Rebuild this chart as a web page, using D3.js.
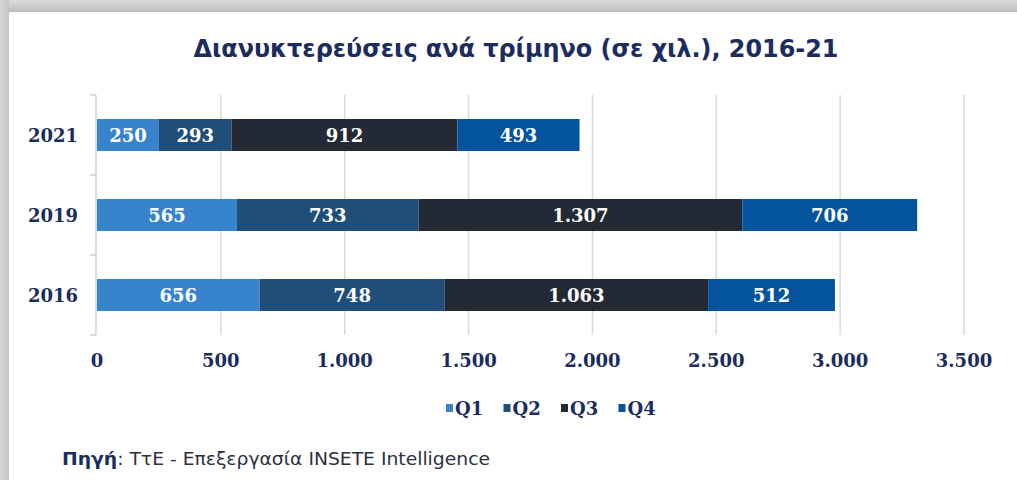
<!DOCTYPE html>
<html>
<head>
<meta charset="utf-8">
<script src="https://cdn.jsdelivr.net/npm/d3@7"></script>
<style>
  html, body { margin: 0; padding: 0; background: #fff; }
  svg { display: block; }
</style>
</head>
<body>
<svg width="1017" height="480"></svg>
<script>
// data
const years = ['2021', '2019', '2016'];
const quarters = ['Q1', 'Q2', 'Q3', 'Q4'];
const q1 = [250, 565, 656];
const q2 = [293, 733, 748];
const q3 = [912, 1307, 1063];
const q4 = [493, 706, 512];
const xTicks = [0, 500, 1000, 1500, 2000, 2500, 3000, 3500];

const colors = ['#3784cc', '#1f4e79', '#232a35', '#03549c'];
const navy = '#1b2c5e';

const svg = d3.select('svg');
const width = +svg.attr('width');
const height = +svg.attr('height');

// gray drop shadow frame
const defs = svg.append('defs');
const gTop = defs.append('linearGradient').attr('id', 'gTop').attr('x1', 0).attr('y1', 0).attr('x2', 0).attr('y2', 1);
gTop.append('stop').attr('offset', 0).attr('stop-color', '#dcdcdc');
gTop.append('stop').attr('offset', 1).attr('stop-color', '#bdbdbd');
const gLeft = defs.append('linearGradient').attr('id', 'gLeft').attr('x1', 0).attr('y1', 0).attr('x2', 1).attr('y2', 0);
gLeft.append('stop').attr('offset', 0).attr('stop-color', '#d6d6d6');
gLeft.append('stop').attr('offset', 1).attr('stop-color', '#c4c4c4');
svg.append('rect').attr('x', 0).attr('y', 0).attr('width', width).attr('height', 12).attr('fill', 'url(#gTop)');
svg.append('rect').attr('x', 0).attr('y', 0).attr('width', 9).attr('height', height).attr('fill', 'url(#gLeft)');

const rows = years.map((y, i) => ({ year: y, Q1: q1[i], Q2: q2[i], Q3: q3[i], Q4: q4[i] }));
const series = d3.stack().keys(quarters)(rows);

const xScale = d3.scaleLinear().domain([0, 3500]).range([97, 964]);
const yScale = d3.scaleBand()
  .domain(years)
  .range([95, 335])
  .paddingInner(0.6)
  .paddingOuter(0.3);

const fmt = d3.formatLocale({ decimal: ',', thousands: '.', grouping: [3], currency: ['', '€'] }).format(',');

// title
svg.append('text')
  .attr('x', 516)
  .attr('y', 57)
  .attr('text-anchor', 'middle')
  .attr('font-family', 'DejaVu Sans Condensed, DejaVu Sans')
  .attr('font-weight', 'bold')
  .attr('font-size', 25)
  .attr('fill', navy)
  .attr('textLength', 645)
  .attr('lengthAdjust', 'spacingAndGlyphs')
  .text('Διανυκτερεύσεις ανά τρίμηνο (σε χιλ.), 2016-21');

// gridlines
svg.append('g')
  .selectAll('line')
  .data(xTicks.slice(1))
  .join('line')
    .attr('x1', d => xScale(d))
    .attr('x2', d => xScale(d))
    .attr('y1', 95)
    .attr('y2', 335)
    .attr('stroke', '#d9d9d9')
    .attr('stroke-width', 1.5);

// left axis line + category boundary ticks
const step = yScale.step();
const bounds = [95].concat(years.map(y => yScale(y) - step * 0.3 + step));
svg.append('line')
  .attr('x1', 96).attr('x2', 96)
  .attr('y1', 95).attr('y2', 335)
  .attr('stroke', '#d0d0d0').attr('stroke-width', 1.5);
svg.append('g')
  .selectAll('line')
  .data(bounds)
  .join('line')
    .attr('x1', 90).attr('x2', 96)
    .attr('y1', d => d).attr('y2', d => d)
    .attr('stroke', '#d0d0d0').attr('stroke-width', 1.5);

// bars
const g = svg.append('g');
series.forEach((s, si) => {
  g.append('g')
    .attr('fill', colors[si])
    .selectAll('rect')
    .data(s)
    .join('rect')
      .attr('x', d => xScale(d[0]))
      .attr('y', d => yScale(d.data.year))
      .attr('width', d => xScale(d[1]) - xScale(d[0]))
      .attr('height', yScale.bandwidth());

  g.append('g')
    .selectAll('text')
    .data(s)
    .join('text')
      .attr('x', d => (xScale(d[0]) + xScale(d[1])) / 2)
      .attr('y', d => yScale(d.data.year) + yScale.bandwidth() / 2 + 7)
      .attr('text-anchor', 'middle')
      .attr('font-family', 'DejaVu Serif')
      .attr('font-weight', 'bold')
      .attr('font-size', 18)
      .attr('fill', '#fff')
      .text(d => fmt(d[1] - d[0]));
});

// y labels
svg.append('g')
  .selectAll('text')
  .data(years)
  .join('text')
    .attr('x', 78)
    .attr('y', d => yScale(d) + yScale.bandwidth() / 2 + 7)
    .attr('text-anchor', 'end')
    .attr('font-family', 'DejaVu Serif')
    .attr('font-weight', 'bold')
    .attr('font-size', 18)
    .attr('fill', navy)
    .text(d => d);

// x tick labels
svg.append('g')
  .selectAll('text')
  .data(xTicks)
  .join('text')
    .attr('x', d => xScale(d))
    .attr('y', 367)
    .attr('text-anchor', 'middle')
    .attr('font-family', 'DejaVu Serif')
    .attr('font-weight', 'bold')
    .attr('font-size', 18)
    .attr('fill', navy)
    .text(d => fmt(d));

// legend
const legend = svg.append('g')
  .selectAll('g')
  .data(quarters)
  .join('g')
    .attr('transform', (d, i) => `translate(${446 + i * 57.5},408)`);
legend.append('rect')
  .attr('x', 0).attr('y', -4)
  .attr('width', 7).attr('height', 8)
  .attr('fill', (d, i) => colors[i]);
legend.append('text')
  .attr('x', 9)
  .attr('y', 7)
  .attr('font-family', 'DejaVu Serif')
  .attr('font-weight', 'bold')
  .attr('font-size', 18)
  .attr('fill', navy)
  .text(d => d);

// source
const src = svg.append('text')
  .attr('x', 62)
  .attr('y', 465)
  .attr('font-family', 'DejaVu Sans Condensed, DejaVu Sans')
  .attr('font-size', 18)
  .attr('fill', navy)
  .attr('textLength', 428)
  .attr('lengthAdjust', 'spacingAndGlyphs');
src.append('tspan').attr('font-weight', 'bold').text('Πηγή');
src.append('tspan').attr('fill', '#2a3140').text(': ΤτΕ - Επεξεργασία INSETE Intelligence');
</script>
</body>
</html>
